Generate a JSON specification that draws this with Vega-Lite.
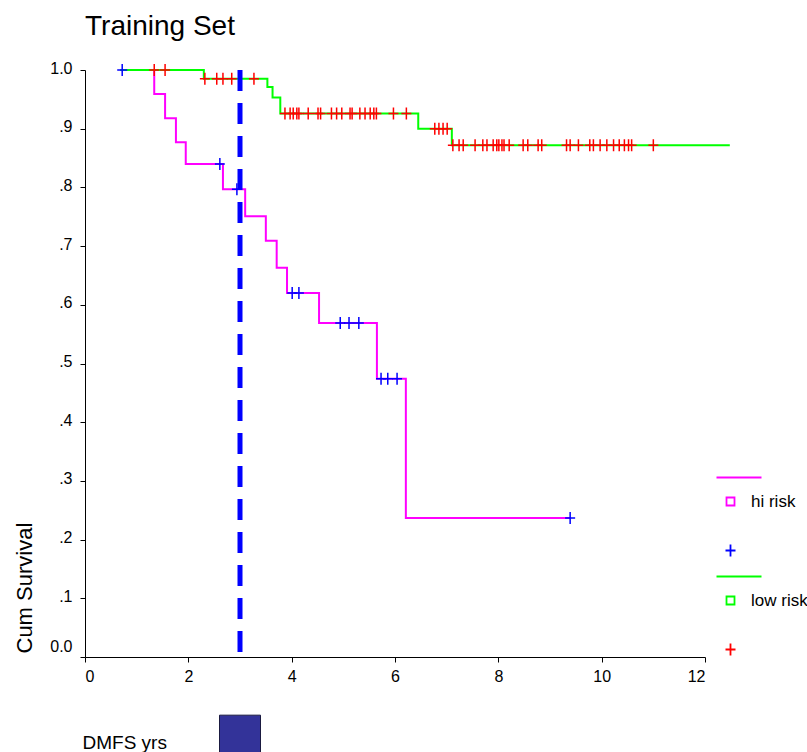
{
  "$schema": "https://vega.github.io/schema/vega-lite/v6.json",
  "width": 620,
  "height": 587,
  "autosize": {"type": "none"},
  "padding": {"left": 85, "top": 70, "right": 102, "bottom": 95},
  "background": "white",
  "title": {"text": "Training Set", "anchor": "start", "frame": "group", "offset": 26, "dy": 29, "baseline": "alphabetic", "fontSize": 28, "fontWeight": "normal", "font": "Liberation Sans, sans-serif", "color": "black"},
  "config": {
    "view": {"stroke": null},
    "font": "Liberation Sans, sans-serif",
    "axis": {"grid": false, "domainColor": "black", "tickColor": "black", "labelColor": "black", "titleColor": "black", "tickSize": 5, "labelFont": "Liberation Sans, sans-serif", "labelFontSize": 16, "titleFontWeight": "normal"}
  },
  "datasets": {
    "curves": [
      {"group": "hi risk", "time": 0.68, "surv": 1.0},
      {"group": "hi risk", "time": 1.34, "surv": 0.959},
      {"group": "hi risk", "time": 1.55, "surv": 0.918},
      {"group": "hi risk", "time": 1.76, "surv": 0.877},
      {"group": "hi risk", "time": 1.95, "surv": 0.840},
      {"group": "hi risk", "time": 2.67, "surv": 0.797},
      {"group": "hi risk", "time": 3.10, "surv": 0.751},
      {"group": "hi risk", "time": 3.50, "surv": 0.709},
      {"group": "hi risk", "time": 3.71, "surv": 0.663},
      {"group": "hi risk", "time": 3.91, "surv": 0.620},
      {"group": "hi risk", "time": 4.53, "surv": 0.569},
      {"group": "hi risk", "time": 5.65, "surv": 0.474},
      {"group": "hi risk", "time": 6.21, "surv": 0.237},
      {"group": "hi risk", "time": 9.39, "surv": 0.237},
      {"group": "low risk", "time": 0.68, "surv": 1.0},
      {"group": "low risk", "time": 2.30, "surv": 0.985},
      {"group": "low risk", "time": 3.53, "surv": 0.971},
      {"group": "low risk", "time": 3.63, "surv": 0.953},
      {"group": "low risk", "time": 3.78, "surv": 0.926},
      {"group": "low risk", "time": 6.45, "surv": 0.900},
      {"group": "low risk", "time": 7.10, "surv": 0.872},
      {"group": "low risk", "time": 12.48, "surv": 0.872}
    ],
    "censors": [
      {"key": "hi censored", "time": 0.72, "surv": 1.0},
      {"key": "hi censored", "time": 2.61, "surv": 0.840},
      {"key": "hi censored", "time": 2.94, "surv": 0.797},
      {"key": "hi censored", "time": 4.01, "surv": 0.620},
      {"key": "hi censored", "time": 4.14, "surv": 0.620},
      {"key": "hi censored", "time": 4.94, "surv": 0.569},
      {"key": "hi censored", "time": 5.11, "surv": 0.569},
      {"key": "hi censored", "time": 5.30, "surv": 0.569},
      {"key": "hi censored", "time": 5.73, "surv": 0.474},
      {"key": "hi censored", "time": 5.86, "surv": 0.474},
      {"key": "hi censored", "time": 6.04, "surv": 0.474},
      {"key": "hi censored", "time": 9.39, "surv": 0.237},
      {"key": "low censored", "time": 1.34, "surv": 1.0},
      {"key": "low censored", "time": 1.55, "surv": 1.0},
      {"key": "low censored", "time": 2.32, "surv": 0.985},
      {"key": "low censored", "time": 2.55, "surv": 0.985},
      {"key": "low censored", "time": 2.67, "surv": 0.985},
      {"key": "low censored", "time": 2.84, "surv": 0.985},
      {"key": "low censored", "time": 3.27, "surv": 0.985},
      {"key": "low censored", "time": 3.87, "surv": 0.926},
      {"key": "low censored", "time": 3.97, "surv": 0.926},
      {"key": "low censored", "time": 4.03, "surv": 0.926},
      {"key": "low censored", "time": 4.10, "surv": 0.926},
      {"key": "low censored", "time": 4.14, "surv": 0.926},
      {"key": "low censored", "time": 4.32, "surv": 0.926},
      {"key": "low censored", "time": 4.51, "surv": 0.926},
      {"key": "low censored", "time": 4.56, "surv": 0.926},
      {"key": "low censored", "time": 4.77, "surv": 0.926},
      {"key": "low censored", "time": 4.87, "surv": 0.926},
      {"key": "low censored", "time": 4.97, "surv": 0.926},
      {"key": "low censored", "time": 5.13, "surv": 0.926},
      {"key": "low censored", "time": 5.17, "surv": 0.926},
      {"key": "low censored", "time": 5.32, "surv": 0.926},
      {"key": "low censored", "time": 5.42, "surv": 0.926},
      {"key": "low censored", "time": 5.52, "surv": 0.926},
      {"key": "low censored", "time": 5.59, "surv": 0.926},
      {"key": "low censored", "time": 5.64, "surv": 0.926},
      {"key": "low censored", "time": 5.97, "surv": 0.926},
      {"key": "low censored", "time": 6.22, "surv": 0.926},
      {"key": "low censored", "time": 6.77, "surv": 0.900},
      {"key": "low censored", "time": 6.85, "surv": 0.900},
      {"key": "low censored", "time": 6.93, "surv": 0.900},
      {"key": "low censored", "time": 7.01, "surv": 0.900},
      {"key": "low censored", "time": 7.12, "surv": 0.872},
      {"key": "low censored", "time": 7.24, "surv": 0.872},
      {"key": "low censored", "time": 7.32, "surv": 0.872},
      {"key": "low censored", "time": 7.55, "surv": 0.872},
      {"key": "low censored", "time": 7.70, "surv": 0.872},
      {"key": "low censored", "time": 7.78, "surv": 0.872},
      {"key": "low censored", "time": 7.90, "surv": 0.872},
      {"key": "low censored", "time": 7.97, "surv": 0.872},
      {"key": "low censored", "time": 8.01, "surv": 0.872},
      {"key": "low censored", "time": 8.07, "surv": 0.872},
      {"key": "low censored", "time": 8.11, "surv": 0.872},
      {"key": "low censored", "time": 8.21, "surv": 0.872},
      {"key": "low censored", "time": 8.48, "surv": 0.872},
      {"key": "low censored", "time": 8.57, "surv": 0.872},
      {"key": "low censored", "time": 8.77, "surv": 0.872},
      {"key": "low censored", "time": 8.84, "surv": 0.872},
      {"key": "low censored", "time": 9.32, "surv": 0.872},
      {"key": "low censored", "time": 9.39, "surv": 0.872},
      {"key": "low censored", "time": 9.55, "surv": 0.872},
      {"key": "low censored", "time": 9.77, "surv": 0.872},
      {"key": "low censored", "time": 9.84, "surv": 0.872},
      {"key": "low censored", "time": 9.97, "surv": 0.872},
      {"key": "low censored", "time": 10.10, "surv": 0.872},
      {"key": "low censored", "time": 10.23, "surv": 0.872},
      {"key": "low censored", "time": 10.34, "surv": 0.872},
      {"key": "low censored", "time": 10.44, "surv": 0.872},
      {"key": "low censored", "time": 10.52, "surv": 0.872},
      {"key": "low censored", "time": 10.58, "surv": 0.872},
      {"key": "low censored", "time": 11.00, "surv": 0.872}
    ],
    "cutoff": [{"cutoff": 3}]
  },
  "layer": [
    {
      "data": {"name": "curves"},
      "mark": {"type": "line", "interpolate": "step-after", "strokeWidth": 2},
      "encoding": {
        "x": {"field": "time", "type": "quantitative", "title": "DMFS yrs", "scale": {"domain": [0, 12], "nice": false},
              "axis": {"values": [0, 2, 4, 6, 8, 10, 12], "labelPadding": 6, "titleAnchor": "start", "titleAlign": "left", "titleBaseline": "alphabetic", "titleX": -3, "titleY": 91, "titleFontSize": 19, "titleFont": "Liberation Sans, sans-serif"}},
        "y": {"field": "surv", "type": "quantitative", "title": "Cum Survival", "scale": {"domain": [0, 1], "nice": false},
              "axis": {"values": [0, 0.1, 0.2, 0.3, 0.4, 0.5, 0.6, 0.7, 0.8, 0.9, 1.0], "labelPadding": 8,
                       "labelExpr": "datum.value == 0 ? '0.0' : datum.value == 1 ? '1.0' : replace(format(datum.value, '.1f'), '0.', '.')",
                       "labelOffset": {"condition": {"test": "datum.value == 0", "value": -11}, "value": -2},
                       "titleAngle": -90, "titleAlign": "left", "titleBaseline": "alphabetic", "titleX": -54, "titleY": 583, "titleFontSize": 22, "titleFont": "Liberation Sans, sans-serif"}},
        "stroke": {"field": "group", "type": "nominal", "scale": {"domain": ["hi risk", "low risk"], "range": ["#ff00ff", "#00ff00"]}, "legend": null}
      }
    },
    {
      "data": {"name": "censors"},
      "mark": {"type": "point", "filled": false, "strokeWidth": 1.5, "size": 100, "opacity": 1},
      "encoding": {
        "x": {"field": "time", "type": "quantitative", "title": "DMFS yrs"},
        "y": {"field": "surv", "type": "quantitative", "title": "Cum Survival"},
        "color": {"field": "key", "type": "nominal",
                  "scale": {"domain": ["hi line", "hi risk", "hi gap", "hi censored", "low line", "low risk", "low gap", "low censored"],
                            "range": ["#ff00ff", "#ff00ff", "#ffffff", "#0000ff", "#00ff00", "#00ff00", "#ffffff", "#ff0000"]},
                  "legend": {"orient": "none", "legendX": 637, "legendY": 399, "title": null, "padding": 0, "rowPadding": 6, "labelOffset": 12,
                             "labelExpr": "indexof(['hi risk', 'low risk'], datum.label) >= 0 ? datum.label : ''",
                             "labelFontSize": 17, "labelColor": "black", "labelFont": "Liberation Sans, sans-serif",
                             "symbolSize": 100, "symbolStrokeWidth": 1.8}},
        "shape": {"field": "key", "type": "nominal",
                  "scale": {"domain": ["hi line", "hi risk", "hi gap", "hi censored", "low line", "low risk", "low gap", "low censored"],
                            "range": ["M-2.8,0H6.2", "M-0.8,-0.8H0.8V0.8H-0.8Z", "M0,0", "M-1,0H1M0,-1.2V1.2", "M-2.8,0H6.2", "M-0.8,-0.8H0.8V0.8H-0.8Z", "M0,0", "M-1,0H1M0,-1.2V1.2"]},
                  "legend": {"orient": "none", "legendX": 637, "legendY": 399, "title": null, "padding": 0, "rowPadding": 6, "labelOffset": 12,
                             "labelExpr": "indexof(['hi risk', 'low risk'], datum.label) >= 0 ? datum.label : ''",
                             "labelFontSize": 17, "labelColor": "black", "labelFont": "Liberation Sans, sans-serif",
                             "symbolSize": 100, "symbolStrokeWidth": 1.8}}
      }
    },
    {
      "data": {"name": "cutoff"},
      "mark": {"type": "rule", "color": "#0000ff", "strokeWidth": 5, "strokeDash": [21, 12]},
      "encoding": {
        "x": {"field": "cutoff", "type": "quantitative", "title": "DMFS yrs"}
      }
    },
    {
      "data": {"name": "cutoff"},
      "mark": {"type": "point", "shape": "square", "filled": true, "fill": "#333399", "stroke": "#1a1a40", "strokeWidth": 1, "size": 1681, "opacity": 1},
      "encoding": {
        "x": {"field": "cutoff", "type": "quantitative", "title": "DMFS yrs"},
        "y": {"datum": -0.134}
      }
    }
  ]
}
